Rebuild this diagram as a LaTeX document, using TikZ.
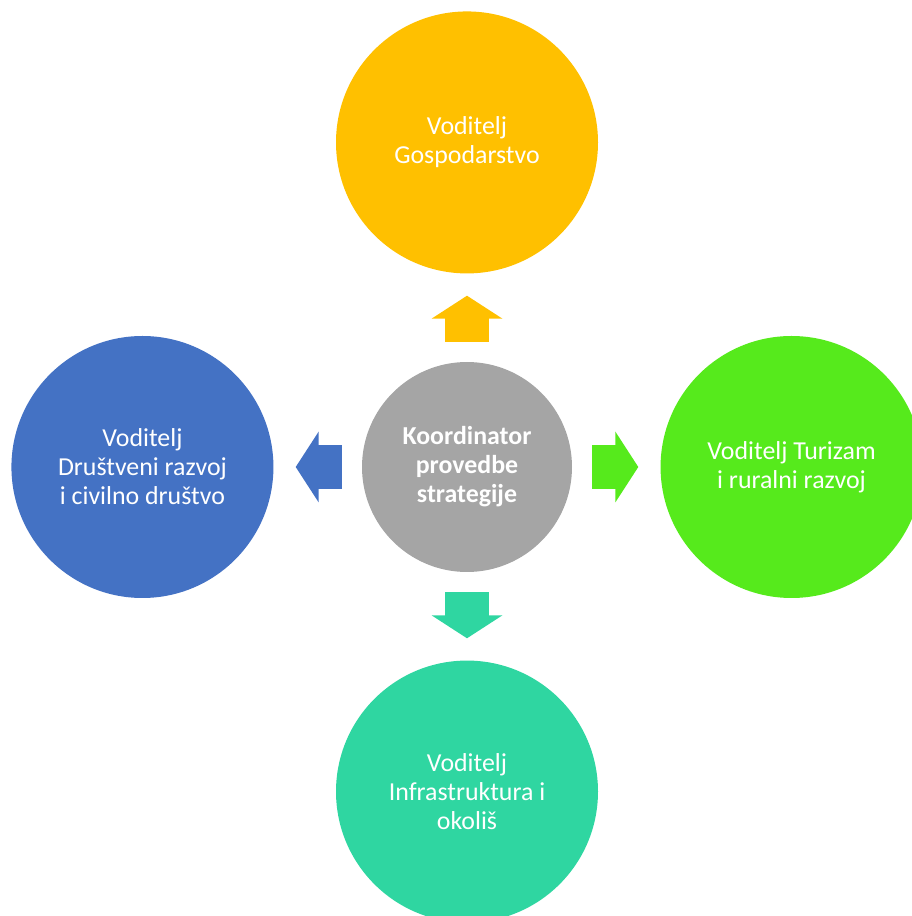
\documentclass[tikz,border=0pt]{standalone}
\usepackage{fontspec}
\setmainfont{Carlito}
\usetikzlibrary{positioning,arrows.meta}

\definecolor{koordgray}{HTML}{A5A5A5}
\definecolor{gospyellow}{HTML}{FFC000}
\definecolor{drustblue}{HTML}{4472C4}
\definecolor{turgreen}{HTML}{56EA1C}
\definecolor{infrateal}{HTML}{2FD6A1}

\begin{document}
\begin{tikzpicture}[
    voditelj/.style={circle, minimum size=6.55cm, inner sep=0pt,
      text=white, align=center,
      font=\fontsize{18.4}{20.6}\selectfont},
    blockarrow/.style={line width=1.1cm,
      -{Triangle[length=0.575cm, width=1.775cm, line width=0pt]},
      shorten <=0.5cm, shorten >=0.55cm,
      postaction={draw, -, shorten >=1.0cm}}
  ]

    \useasboundingbox (-11.675,-11.225) rectangle (11.1,11.675);

    \node[circle, fill=koordgray,
    minimum size=5.25cm, inner sep=0pt,
    text=white, align=center,
    font=\fontsize{18.4}{20.6}\selectfont\bfseries] (koord) at (0,0) {Koordinator\\provedbe\\strategije};

    \node[voditelj, fill=gospyellow,
    above=2.2cm of koord] (gosp) {Voditelj\\Gospodarstvo};

    \node[voditelj, fill=drustblue,
    left=2.2cm of koord] (drust) {Voditelj\\Društveni razvoj\\i civilno društvo};

    \node[voditelj, fill=turgreen,
    right=2.2cm of koord] (tur) {Voditelj Turizam\\i ruralni razvoj};

    \node[voditelj, fill=infrateal,
    below=2.2cm of koord] (infra) {Voditelj\\Infrastruktura i\\okoliš};

    \draw[blockarrow, gospyellow] (koord)--(gosp);
    \draw[blockarrow, drustblue] (koord)--(drust);
    \draw[blockarrow, turgreen] (koord)--(tur);
    \draw[blockarrow, infrateal] (koord)--(infra);
\end{tikzpicture}
\end{document}
